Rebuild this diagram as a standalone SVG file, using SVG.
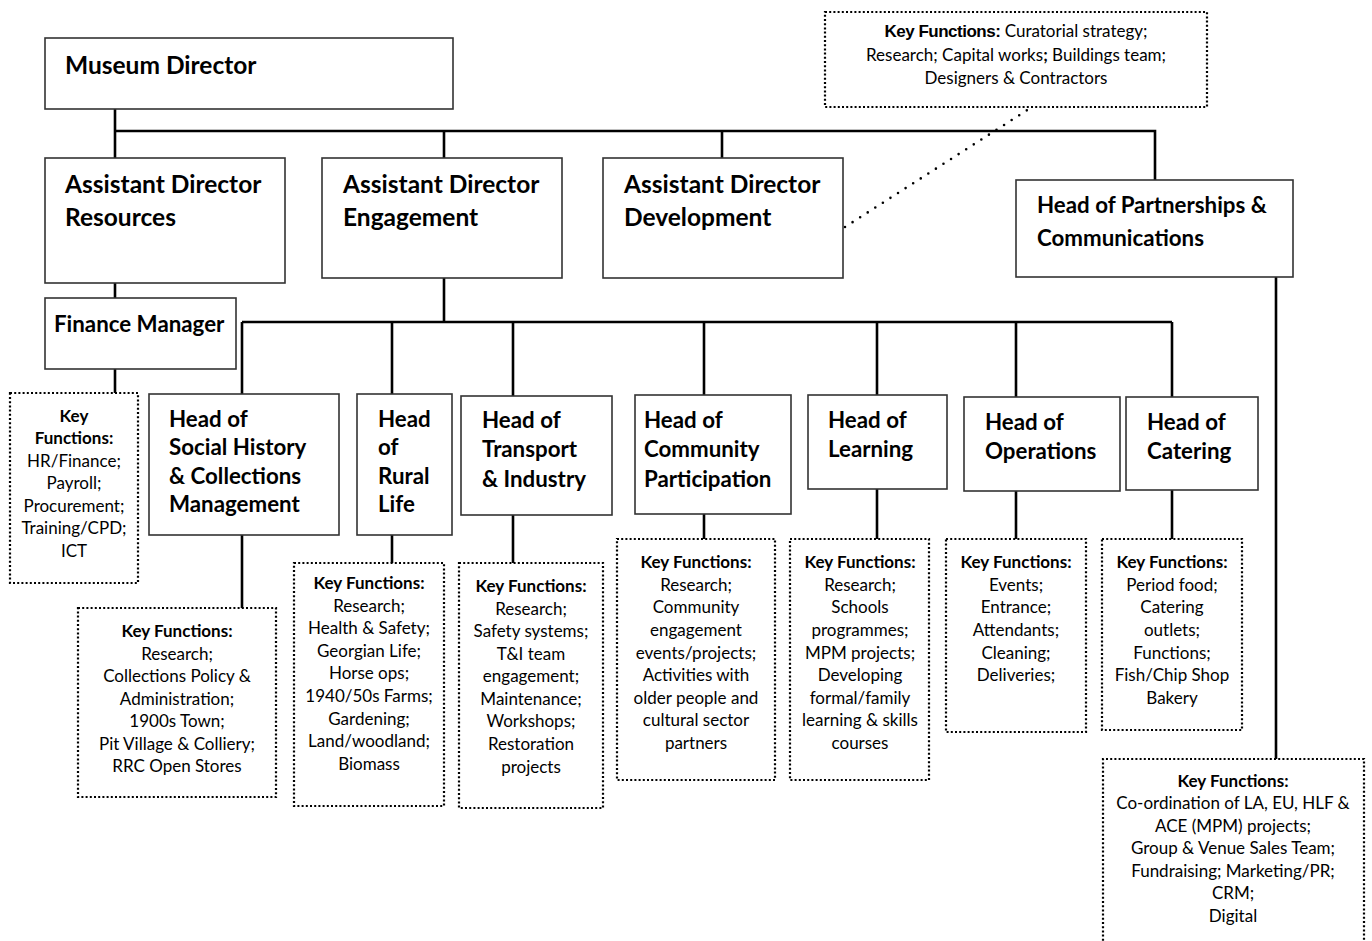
<svg xmlns="http://www.w3.org/2000/svg" width="1372" height="941" viewBox="0 0 1372 941">
<style>
.box{fill:#fff;stroke:#333;stroke-width:1.6}
.kbox{fill:#fff;stroke:#000;stroke-width:2.2;stroke-dasharray:2 2.2}
.con{fill:none;stroke:#000;stroke-width:2.6}
.dotl{fill:none;stroke:#000;stroke-width:2.6;stroke-linecap:round;stroke-dasharray:0 9}
.t1{font-family:Lato,"Liberation Sans",sans-serif;font-weight:bold;font-size:24.5px;fill:#000}
.t2{font-family:Lato,"Liberation Sans",sans-serif;font-weight:bold;font-size:22.3px;fill:#000}
.k{font-family:Lato,"Liberation Sans",sans-serif;font-size:17px;fill:#000;text-anchor:middle}
.kb{font-weight:bold}
.tr{font-family:Lato,"Liberation Sans",sans-serif;font-size:17px;fill:#000;text-anchor:middle}
.trb{font-family:"Liberation Sans",Arial,sans-serif;font-weight:bold;letter-spacing:-0.5px}
</style>
<rect width="1372" height="941" fill="#fff"/>
<g id="connectors">
<path class="con" d="M115 109V158M115 131H1155V180M444 131V158M722 131V158"/>
<path class="con" d="M115 283V298M115 369V393"/>
<path class="con" d="M444 278V322M242 322H1172M242 322V394M392 322V394M513 322V396M704 322V395M877 322V395M1016 322V397M1172 322V397"/>
<path class="con" d="M242 535V608M392 535V563M513 515V563M704 514V539M877 489V539M1016 491V539M1172 490V539"/>
<path class="con" d="M1276 277V759"/>
<path class="dotl" d="M845 227L1032 107"/>
</g>
<g id="museum-director"><rect class="box" x="45" y="38" width="408" height="71"/><text class="t1" x="65" y="74">Museum Director</text></g>
<g id="ad-resources"><rect class="box" x="45" y="158" width="240" height="125"/><text class="t1" x="65" y="193">Assistant Director</text><text class="t1" x="65" y="226">Resources</text></g>
<g id="ad-engagement"><rect class="box" x="322" y="158" width="240" height="120"/><text class="t1" x="343" y="193">Assistant Director</text><text class="t1" x="343" y="226">Engagement</text></g>
<g id="ad-development"><rect class="box" x="603" y="158" width="240" height="120"/><text class="t1" x="624" y="193">Assistant Director</text><text class="t1" x="624" y="226">Development</text></g>
<g id="head-partnerships"><rect class="box" x="1016" y="180" width="277" height="97"/><text class="t2" x="1037" y="213">Head of Partnerships &amp;</text><text class="t2" x="1037" y="246">Communications</text></g>
<g id="key-development"><rect class="kbox" x="825" y="12" width="382" height="95"/>
<text class="tr" x="1016" y="37"><tspan class="trb">Key Functions:</tspan> Curatorial strategy;</text>
<text class="tr" x="1016" y="61">Research; Capital works<tspan class="kb">;</tspan> Buildings team;</text>
<text class="tr" x="1016" y="84">Designers &amp; Contractors</text></g>
<g id="finance-manager"><rect class="box" x="45" y="298" width="191" height="71"/><text class="t2" x="54" y="332">Finance Manager</text></g>
<g id="key-finance"><rect class="kbox" x="10" y="393" width="128" height="190"/>
<text class="k" x="74"><tspan class="kb" x="74" y="422">Key</tspan><tspan class="kb" x="74" y="444">Functions:</tspan><tspan x="74" y="467">HR/Finance;</tspan><tspan x="74" y="489">Payroll;</tspan><tspan x="74" y="512">Procurement;</tspan><tspan x="74" y="534">Training/CPD;</tspan><tspan x="74" y="557">ICT</tspan></text></g>
<g id="head-social-history"><rect class="box" x="149" y="394" width="190" height="141"/>
<text class="t2"><tspan x="169" y="427">Head of</tspan><tspan x="169" y="455">Social History</tspan><tspan x="169" y="484">&amp; Collections</tspan><tspan x="169" y="512">Management</tspan></text></g>
<g id="key-social-history"><rect class="kbox" x="78" y="608" width="198" height="189"/>
<text class="k"><tspan class="kb" x="177" y="637">Key Functions:</tspan><tspan x="177" y="660">Research;</tspan><tspan x="177" y="682">Collections Policy &amp;</tspan><tspan x="177" y="705">Administration;</tspan><tspan x="177" y="727">1900s Town;</tspan><tspan x="177" y="750">Pit Village &amp; Colliery;</tspan><tspan x="177" y="772">RRC Open Stores</tspan></text></g>
<g id="head-rural-life"><rect class="box" x="357" y="394" width="95" height="141"/>
<text class="t2"><tspan x="378" y="427">Head</tspan><tspan x="378" y="455">of</tspan><tspan x="378" y="484">Rural</tspan><tspan x="378" y="512">Life</tspan></text></g>
<g id="key-rural-life"><rect class="kbox" x="294" y="563" width="150" height="243"/>
<text class="k"><tspan class="kb" x="369" y="589">Key Functions:</tspan><tspan x="369" y="612">Research;</tspan><tspan x="369" y="634">Health &amp; Safety;</tspan><tspan x="369" y="657">Georgian Life;</tspan><tspan x="369" y="679">Horse ops;</tspan><tspan x="369" y="702">1940/50s Farms;</tspan><tspan x="369" y="725">Gardening;</tspan><tspan x="369" y="747">Land/woodland;</tspan><tspan x="369" y="770">Biomass</tspan></text></g>
<g id="head-transport"><rect class="box" x="461" y="396" width="151" height="119"/>
<text class="t2"><tspan x="482" y="428">Head of</tspan><tspan x="482" y="457">Transport</tspan><tspan x="482" y="487">&amp; Industry</tspan></text></g>
<g id="key-transport"><rect class="kbox" x="459" y="563" width="144" height="245"/>
<text class="k"><tspan class="kb" x="531" y="592">Key Functions:</tspan><tspan x="531" y="615">Research;</tspan><tspan x="531" y="637">Safety systems;</tspan><tspan x="531" y="660">T&amp;I team</tspan><tspan x="531" y="682">engagement;</tspan><tspan x="531" y="705">Maintenance;</tspan><tspan x="531" y="727">Workshops;</tspan><tspan x="531" y="750">Restoration</tspan><tspan x="531" y="773">projects</tspan></text></g>
<g id="head-community"><rect class="box" x="635" y="395" width="156" height="119"/>
<text class="t2"><tspan x="644" y="428">Head of</tspan><tspan x="644" y="457">Community</tspan><tspan x="644" y="487">Participation</tspan></text></g>
<g id="key-community"><rect class="kbox" x="617" y="539" width="158" height="241"/>
<text class="k"><tspan class="kb" x="696" y="568">Key Functions:</tspan><tspan x="696" y="591">Research;</tspan><tspan x="696" y="613">Community</tspan><tspan x="696" y="636">engagement</tspan><tspan x="696" y="659">events/projects;</tspan><tspan x="696" y="681">Activities with</tspan><tspan x="696" y="704">older people and</tspan><tspan x="696" y="726">cultural sector</tspan><tspan x="696" y="749">partners</tspan></text></g>
<g id="head-learning"><rect class="box" x="808" y="395" width="139" height="94"/>
<text class="t2"><tspan x="828" y="428">Head of</tspan><tspan x="828" y="457">Learning</tspan></text></g>
<g id="key-learning"><rect class="kbox" x="790" y="539" width="139" height="241"/>
<text class="k"><tspan class="kb" x="860" y="568">Key Functions:</tspan><tspan x="860" y="591">Research;</tspan><tspan x="860" y="613">Schools</tspan><tspan x="860" y="636">programmes;</tspan><tspan x="860" y="659">MPM projects;</tspan><tspan x="860" y="681">Developing</tspan><tspan x="860" y="704">formal/family</tspan><tspan x="860" y="726">learning &amp; skills</tspan><tspan x="860" y="749">courses</tspan></text></g>
<g id="head-operations"><rect class="box" x="964" y="397" width="156" height="94"/>
<text class="t2"><tspan x="985" y="430">Head of</tspan><tspan x="985" y="459">Operations</tspan></text></g>
<g id="key-operations"><rect class="kbox" x="946" y="539" width="140" height="193"/>
<text class="k"><tspan class="kb" x="1016" y="568">Key Functions:</tspan><tspan x="1016" y="591">Events;</tspan><tspan x="1016" y="613">Entrance;</tspan><tspan x="1016" y="636">Attendants;</tspan><tspan x="1016" y="659">Cleaning;</tspan><tspan x="1016" y="681">Deliveries;</tspan></text></g>
<g id="head-catering"><rect class="box" x="1126" y="397" width="132" height="93"/>
<text class="t2"><tspan x="1147" y="430">Head of</tspan><tspan x="1147" y="459">Catering</tspan></text></g>
<g id="key-catering"><rect class="kbox" x="1102" y="539" width="140" height="191"/>
<text class="k"><tspan class="kb" x="1172" y="568">Key Functions:</tspan><tspan x="1172" y="591">Period food;</tspan><tspan x="1172" y="613">Catering</tspan><tspan x="1172" y="636">outlets;</tspan><tspan x="1172" y="659">Functions;</tspan><tspan x="1172" y="681">Fish/Chip Shop</tspan><tspan x="1172" y="704">Bakery</tspan></text></g>
<g id="key-partnerships"><path class="kbox" d="M1103 945V759H1364V945"/>
<text class="k"><tspan class="kb" x="1233" y="787">Key Functions:</tspan><tspan x="1233" y="809">Co-ordination of LA, EU, HLF &amp;</tspan><tspan x="1233" y="832">ACE (MPM) projects;</tspan><tspan x="1233" y="854">Group &amp; Venue Sales Team;</tspan><tspan x="1233" y="877">Fundraising; Marketing/PR;</tspan><tspan x="1233" y="899">CRM;</tspan><tspan x="1233" y="922">Digital</tspan></text></g>
</svg>
